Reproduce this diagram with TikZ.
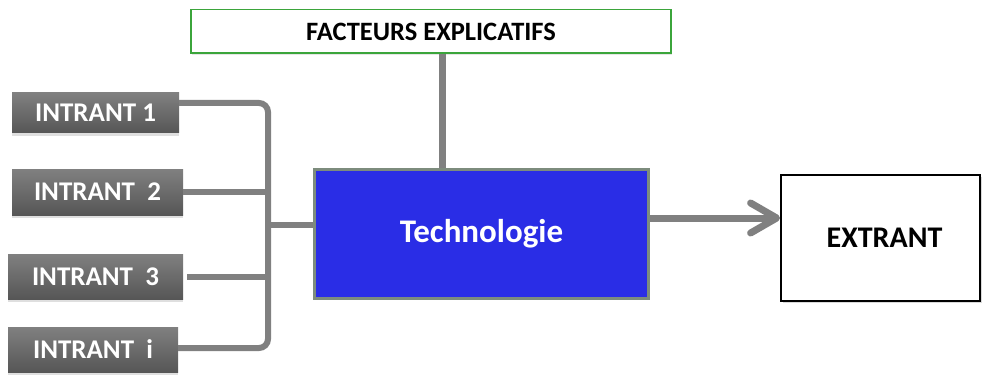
\documentclass[tikz,border=0pt]{standalone}
\usepackage{fontspec}
\setmainfont{Carlito}
\usetikzlibrary{arrows.meta,shadows}

\definecolor{wiregray}{HTML}{808080}
\definecolor{techblue}{HTML}{2A2DE6}
\definecolor{techedge}{HTML}{7D8C7D}
\definecolor{factgreen}{HTML}{3BA53B}
\definecolor{intop}{HTML}{808080}
\definecolor{inbot}{HTML}{565656}

\tikzset{
  inputbox/.style={rectangle, inner sep=0pt, top color=intop, bottom color=inbot,
    text=white, font=\bfseries\fontsize{27}{30}\selectfont,
    drop shadow={shadow xshift=0pt, shadow yshift=-3pt, opacity=0.25, fill=gray}},
  wire/.style={draw=wiregray, line width=6pt},
}

\begin{document}
\begin{tikzpicture}[x=1pt,y=-1pt]
\useasboundingbox (0,0) rectangle (982,377);

% explanatory factors
\node[rectangle, draw=factgreen, line width=1.5pt, fill=white, inner sep=0pt,
      minimum width=480pt, minimum height=43.5pt,
      drop shadow={shadow xshift=1pt, shadow yshift=-2pt, opacity=0.2, fill=gray},
      font=\bfseries\fontsize{26.5}{30}\selectfont]
  (fact) at (431,31.5) {FACTEURS EXPLICATIFS};

% technology block
\node[rectangle, fill=techblue, draw=techedge, line width=3pt, inner sep=0pt,
      minimum width=334pt, minimum height=129pt, text=white,
      font=\bfseries\fontsize{33}{36}\selectfont]
  (tech) at (481.5,234) {\raisebox{-3pt}{Technologie}};

% output
\node[rectangle, draw=black, line width=1.8pt, fill=white, inner sep=0pt,
      minimum width=199pt, minimum height=126pt,
      drop shadow={shadow xshift=1.5pt, shadow yshift=-2pt, opacity=0.3, fill=gray},
      font=\bfseries\fontsize{30}{33}\selectfont]
  (ext) at (880.5,238) {\hspace*{8pt}EXTRANT};

% inputs
\node[inputbox, minimum width=167pt, minimum height=40pt] (in1) at (95.5,113) {INTRANT 1};
\node[inputbox, minimum width=171pt, minimum height=46pt] (in2) at (97.5,192) {INTRANT\ \ 2};
\node[inputbox, minimum width=175pt, minimum height=45pt] (in3) at (95.5,276.5) {INTRANT\ \ 3};
\node[inputbox, minimum width=170pt, minimum height=45pt] (in4) at (93,349.5) {INTRANT\ \ i};

% collecting bus
\coordinate (bt) at (268,103);
\coordinate (bb) at (268,348);
\coordinate (bm) at (268,225);

\draw[wire, rounded corners=9pt] (in1.east |- bt) -- (bt) -- (bb) -- (in4.east |- bb);
\draw[wire] (in2.east) -- (in2.east -| bt);
\draw[wire] ([xshift=4pt]in3.east) -- (in3.east -| bt);
\draw[wire] (bm) -- (bm -| tech.west);

% factors feeding the technology
\draw[wire, line width=7pt] ([xshift=11pt]fact.south) -- ([xshift=11pt]fact.south |- tech.north);

% technology to output
\draw[wire, line width=7pt, -{Straight Barb[length=26pt, width=30pt, round]}]
  ([yshift=16pt]tech.east) -- ([yshift=16pt]tech.east -| ext.west);
\end{tikzpicture}
\end{document}
